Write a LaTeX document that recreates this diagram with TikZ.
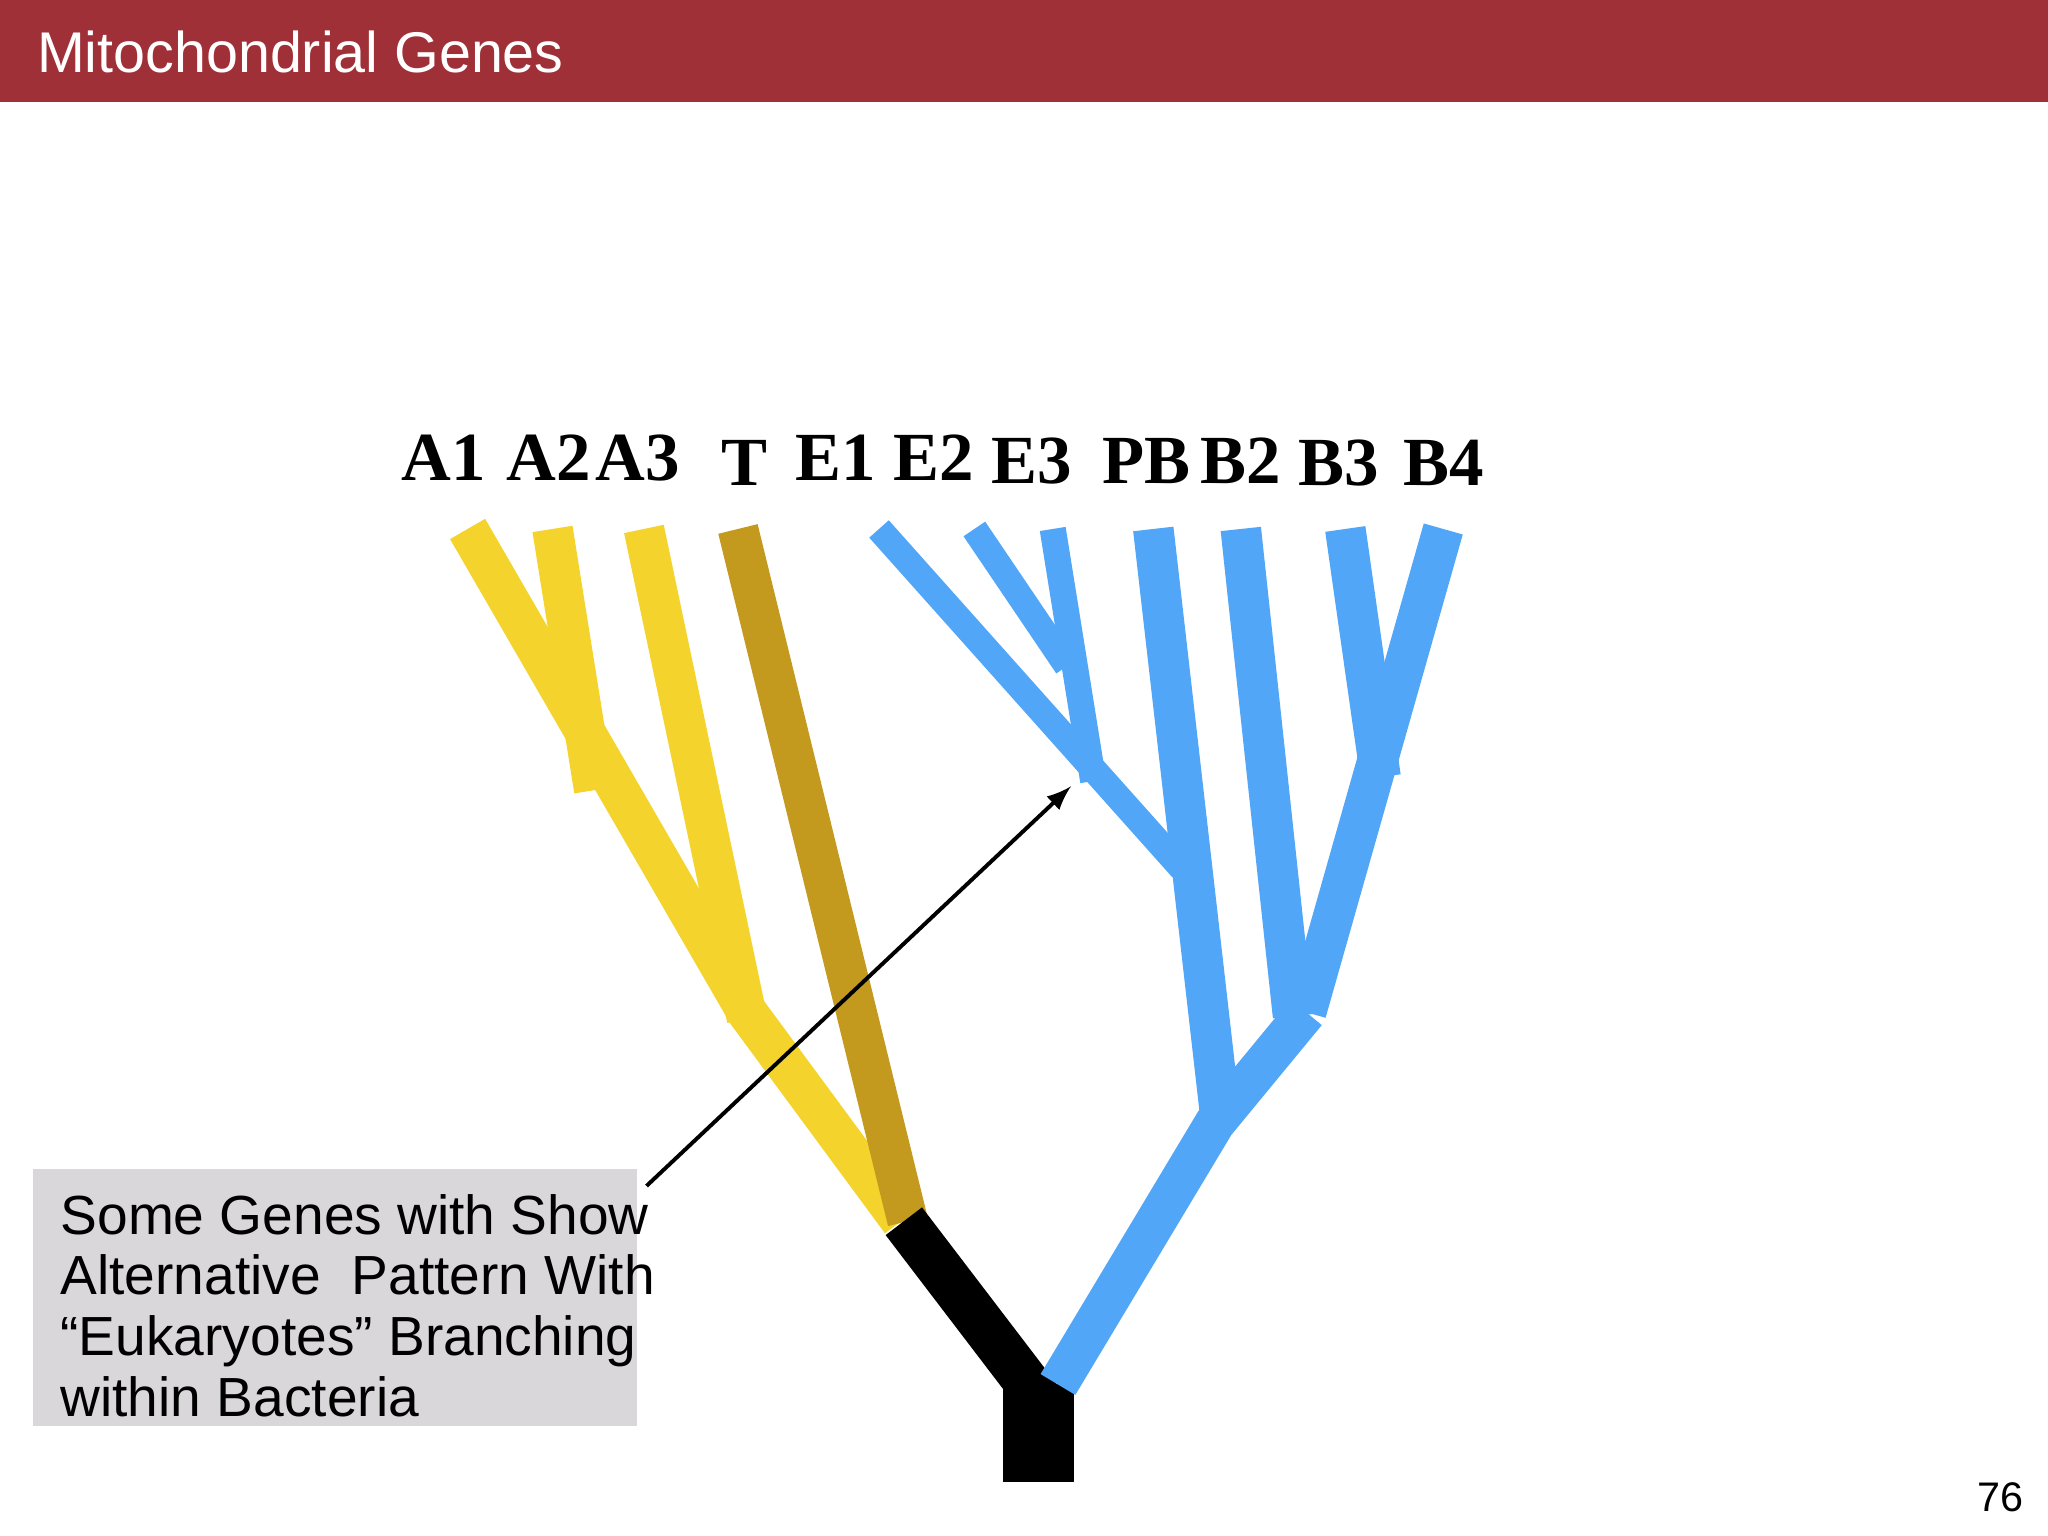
\documentclass[tikz,border=0pt]{standalone}
\usepackage{fontspec}
\setmainfont{Liberation Sans}
\newfontfamily\lserif{Liberation Serif}
\definecolor{cyel}{RGB}{244,212,44}
\definecolor{cbrn}{RGB}{195,154,30}
\definecolor{cblu}{RGB}{82,166,247}
\definecolor{chead}{RGB}{160,48,56}
\definecolor{cbox}{RGB}{217,215,218}
\begin{document}
\begin{tikzpicture}[x=0.01cm,y=-0.01cm,
  yel/.style={draw=cyel,line width=0.31cm},
  brn/.style={draw=cbrn,line width=0.31cm},
  blu/.style={draw=cblu,line width=0.31cm},
  blut/.style={draw=cblu,line width=0.2cm},
  lab/.style={font=\lserif\bfseries\fontsize{15}{18}\selectfont,anchor=base}]
\useasboundingbox (0,0) rectangle (1568,1176);
\fill[white] (0,0) rectangle (1568,1176);
\fill[chead] (0,0) rectangle (1568,78);
\node[anchor=west,text=white,font=\fontsize{12.5}{15}\selectfont] (title) at (16,40) {Mitochondrial Genes};
% labels
\foreach \n/\x/\y in {A1/340/368,A2/420/368,A3/488/368,T/570/372,E1/640/368,E2/715/368,E3/790/370,PB/878/370,B2/950/370,B3/1025/372,B4/1105/372}
  \node[lab] (l\n) at (\x,\y) {\n};
% yellow
\draw[yel] (358,405) -- (572,775) -- (690,935);
\draw[yel] (423,405) -- (455,605);
\draw[yel] (493,405) -- (572,780);
% brown
\draw[brn] (565,405) -- (695,935);
% black
\draw[line width=0.35cm] (692,935) -- (795,1070);
\fill (768,1060) rectangle (822,1135);
% blue
\draw[blu] (810,1060) -- (930,860) -- (1000,775);
\draw[blu] (1105,405) -- (1000,775);
\draw[blu] (1030,405) -- (1057,595);
\draw[blu] (950,405) -- (990,778);
\draw[blu] (883,405) -- (935,860);
\draw[blut] (673,405) -- (905,665);
\draw[blut] (746,405) -- (817,510);
\draw[blut] (806,405) -- (837,598);
% box
\fill[cbox] (25,895) rectangle (488,1092);
\node[anchor=north west,align=left,font=\fontsize{12}{13.2}\selectfont] (box) at (34,902)
 {Some Genes with Show\\Alternative\ \ Pattern With\\“Eukaryotes” Branching\\within Bacteria};
\coordinate (as) at (495,908);
\coordinate (ae) at (820,602);
\draw[-latex,line width=0.03cm] (as) -- (ae);
\node[font=\fontsize{9}{11}\selectfont] (pg) at (1532,1146) {76};
\end{tikzpicture}
\end{document}
